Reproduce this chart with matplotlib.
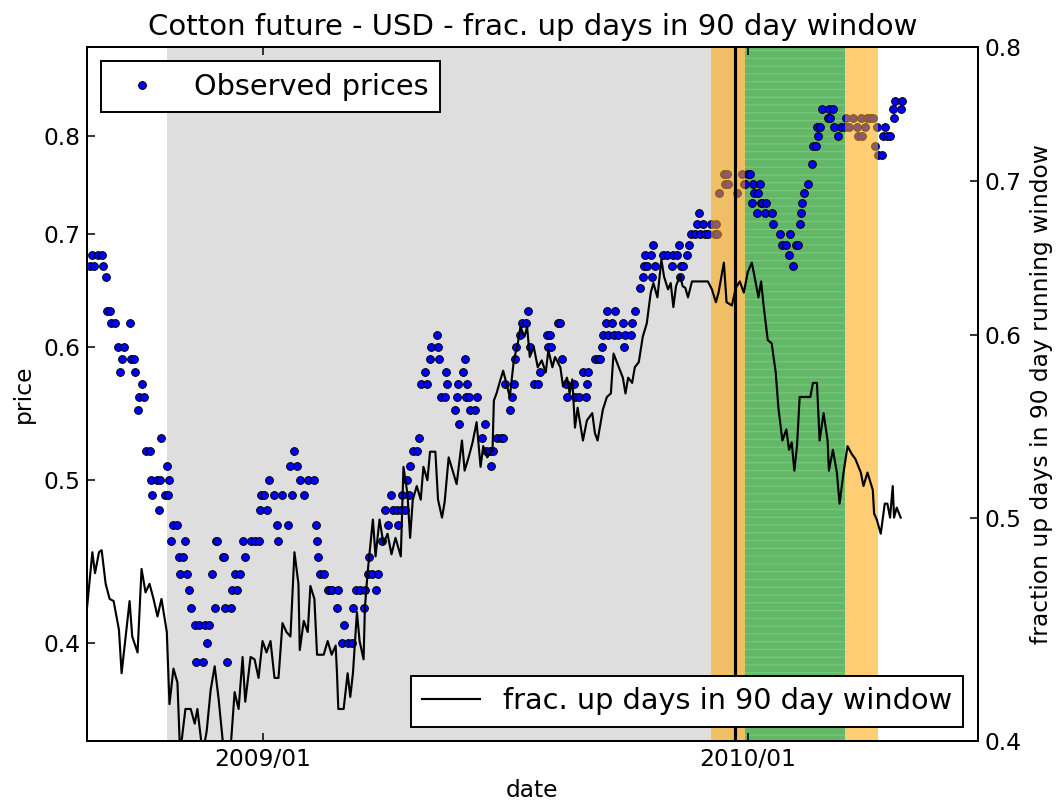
import numpy as np
import matplotlib
matplotlib.use("Agg")
import matplotlib.pyplot as plt
import matplotlib.dates as mdates
from matplotlib.ticker import FixedLocator, FixedFormatter, NullLocator

# ---------------- data ----------------
start_date = np.datetime64("2008-08-22")

price_day = [2, 4, 5, 8, 11, 12, 14, 15, 17, 18, 21, 23, 25, 26, 28, 32, 33, 35, 36, 38, 39, 41, 43, 44, 47, 48,
             49, 53, 54, 55, 56, 59, 60, 61, 62, 63, 65, 68, 69, 70, 72, 74, 75, 77, 78, 81, 82, 84, 87, 89, 90,
             92, 94, 96, 97, 98, 102, 103, 104, 105, 108, 109, 111, 113, 115, 117, 119, 123, 126, 129, 130, 131,
             133, 135, 137, 141, 143, 144, 147, 151, 153, 154, 156, 158, 160, 163, 166, 171, 172, 173, 174, 175,
             178, 181, 183, 184, 188, 189, 192, 193, 196, 199, 200, 202, 205, 208, 209, 211, 212, 214, 217, 219,
             222, 224, 226, 229, 230, 233, 234, 236, 237, 239, 241, 242, 243, 245, 248, 250, 251, 254, 256, 258,
             259, 263, 264, 265, 266, 269, 270, 271, 277, 278, 279, 280, 283, 284, 285, 286, 287, 288, 292, 293,
             297, 299, 300, 303, 304, 305, 308, 311, 313, 314, 318, 320, 321, 322, 323, 326, 327, 330, 332, 333,
             336, 339, 341, 346, 347, 348, 349, 354, 356, 357, 360, 361, 366, 367, 370, 373, 375, 376, 377, 382,
             384, 386, 387, 388, 390, 391, 392, 395, 396, 397, 399, 403, 404, 405, 409, 410, 412, 416, 418, 419,
             420, 421, 424, 425, 426, 427, 433, 436, 440, 441, 444, 445, 446, 447, 448, 451, 453, 454, 457, 459,
             460, 461, 463, 465, 467, 469, 472, 473, 474, 475, 479, 480, 481, 482, 489, 493, 494, 495, 497, 499,
             500, 501, 502, 504, 505, 506, 507, 508, 510, 511, 515, 516, 521, 523, 526, 528, 529, 531, 533, 535,
             536, 537, 538, 539, 542, 545, 546, 548, 549, 550, 551, 553, 557, 558, 559, 561, 562, 565, 567, 570,
             571, 573, 576, 579, 580, 582, 583, 585, 587, 589, 591, 593, 594, 595, 598, 599, 600, 602, 604, 606,
             607, 608, 612, 613]
price_val = [0.67, 0.68, 0.67, 0.68, 0.68, 0.67, 0.66, 0.63, 0.63, 0.62, 0.62, 0.60, 0.58, 0.59, 0.60, 0.62, 0.59,
             0.59, 0.58, 0.55, 0.56, 0.57, 0.56, 0.52, 0.52, 0.50, 0.49, 0.50, 0.48, 0.50, 0.53, 0.49, 0.51, 0.49,
             0.50, 0.46, 0.47, 0.47, 0.45, 0.44, 0.45, 0.46, 0.44, 0.43, 0.42, 0.41, 0.39, 0.41, 0.39, 0.41, 0.40,
             0.41, 0.44, 0.42, 0.46, 0.46, 0.45, 0.45, 0.42, 0.39, 0.42, 0.43, 0.44, 0.43, 0.44, 0.46, 0.45, 0.46,
             0.46, 0.46, 0.48, 0.49, 0.49, 0.48, 0.50, 0.49, 0.47, 0.46, 0.49, 0.47, 0.51, 0.49, 0.52, 0.51, 0.50,
             0.49, 0.50, 0.50, 0.47, 0.46, 0.45, 0.44, 0.44, 0.43, 0.43, 0.43, 0.42, 0.43, 0.40, 0.41, 0.40, 0.40,
             0.42, 0.43, 0.43, 0.42, 0.43, 0.44, 0.45, 0.44, 0.43, 0.44, 0.46, 0.48, 0.47, 0.49, 0.48, 0.48, 0.47,
             0.48, 0.49, 0.48, 0.50, 0.49, 0.51, 0.52, 0.52, 0.53, 0.57, 0.58, 0.57, 0.59, 0.60, 0.61, 0.60, 0.59,
             0.56, 0.56, 0.58, 0.57, 0.55, 0.56, 0.57, 0.54, 0.58, 0.59, 0.56, 0.57, 0.56, 0.55, 0.55, 0.56, 0.53,
             0.54, 0.52, 0.52, 0.51, 0.52, 0.53, 0.53, 0.53, 0.57, 0.55, 0.56, 0.57, 0.59, 0.60, 0.61, 0.62, 0.62,
             0.63, 0.60, 0.57, 0.57, 0.58, 0.61, 0.60, 0.61, 0.60, 0.62, 0.62, 0.59, 0.57, 0.56, 0.57, 0.56, 0.56,
             0.58, 0.56, 0.57, 0.58, 0.59, 0.59, 0.59, 0.60, 0.61, 0.62, 0.63, 0.61, 0.62, 0.61, 0.63, 0.61, 0.62,
             0.60, 0.61, 0.61, 0.62, 0.63, 0.65, 0.66, 0.67, 0.68, 0.67, 0.68, 0.66, 0.69, 0.67, 0.68, 0.68, 0.67,
             0.68, 0.68, 0.69, 0.66, 0.67, 0.67, 0.68, 0.69, 0.70, 0.70, 0.71, 0.72, 0.70, 0.71, 0.70, 0.70, 0.71,
             0.70, 0.71, 0.70, 0.74, 0.76, 0.75, 0.76, 0.75, 0.74, 0.76, 0.75, 0.75, 0.76, 0.76, 0.73, 0.75, 0.74,
             0.72, 0.74, 0.75, 0.73, 0.73, 0.72, 0.73, 0.72, 0.71, 0.70, 0.69, 0.69, 0.68, 0.70, 0.67, 0.69, 0.69,
             0.71, 0.72, 0.73, 0.74, 0.75, 0.77, 0.79, 0.79, 0.81, 0.80, 0.81, 0.83, 0.82, 0.83, 0.82, 0.83, 0.81,
             0.80, 0.81, 0.81, 0.82, 0.81, 0.82, 0.81, 0.80, 0.82, 0.80, 0.81, 0.82, 0.82, 0.82, 0.79, 0.81, 0.78,
             0.78, 0.80, 0.81, 0.80, 0.80, 0.83, 0.82, 0.84, 0.83, 0.84]

frac_day = [0, 4, 6, 9, 11, 14, 17, 20, 24, 26, 32, 34, 38, 41, 44, 47, 50, 53, 56, 60, 62, 65, 68, 70, 74, 78, 81,
            83, 87, 90, 93, 96, 99, 103, 107, 111, 114, 117, 119, 123, 126, 129, 132, 135, 138, 141, 144, 147, 150,
            153, 156, 159, 160, 163, 166, 168, 171, 173, 178, 181, 184, 187, 188, 189, 193, 196, 198, 200, 203, 205,
            208, 209, 211, 215, 217, 220, 223, 226, 229, 232, 236, 238, 241, 243, 245, 248, 251, 253, 256, 258, 262,
            264, 267, 269, 272, 275, 278, 282, 284, 287, 290, 293, 296, 298, 301, 305, 306, 308, 311, 313, 316, 318,
            321, 324, 326, 329, 331, 333, 336, 339, 342, 345, 347, 350, 352, 356, 358, 361, 363, 365, 367, 369, 373,
            376, 380, 382, 384, 388, 391, 394, 396, 400, 403, 405, 407, 410, 412, 415, 418, 421, 424, 426, 429, 432,
            434, 437, 439, 441, 443, 446, 448, 450, 452, 455, 467, 470, 473, 475, 479, 481, 485, 488, 491, 494, 497,
            500, 503, 505, 507, 509, 512, 515, 516, 518, 520, 523, 526, 528, 530, 532, 534, 536, 539, 544, 546, 549,
            551, 554, 557, 558, 561, 564, 566, 569, 572, 575, 578, 582, 584, 587, 591, 592, 594, 597, 600, 602, 604,
            606, 607, 609, 612]
frac_val = [0.457, 0.483, 0.473, 0.483, 0.484, 0.468, 0.461, 0.460, 0.447, 0.428, 0.460, 0.444, 0.437, 0.475, 0.464,
            0.468, 0.461, 0.453, 0.461, 0.446, 0.415, 0.430, 0.424, 0.395, 0.413, 0.413, 0.407, 0.413, 0.395, 0.404,
            0.421, 0.431, 0.417, 0.395, 0.390, 0.420, 0.413, 0.435, 0.416, 0.435, 0.434, 0.426, 0.442, 0.437, 0.442,
            0.426, 0.426, 0.450, 0.446, 0.444, 0.483, 0.468, 0.438, 0.451, 0.446, 0.467, 0.461, 0.436, 0.436, 0.442,
            0.436, 0.440, 0.428, 0.413, 0.413, 0.428, 0.418, 0.428, 0.455, 0.442, 0.434, 0.457, 0.473, 0.499, 0.481,
            0.499, 0.487, 0.492, 0.482, 0.490, 0.481, 0.526, 0.512, 0.490, 0.509, 0.516, 0.509, 0.526, 0.519, 0.534,
            0.534, 0.509, 0.500, 0.508, 0.531, 0.524, 0.517, 0.540, 0.524, 0.531, 0.539, 0.550, 0.526, 0.537, 0.531,
            0.535, 0.562, 0.566, 0.574, 0.579, 0.570, 0.564, 0.585, 0.595, 0.605, 0.599, 0.605, 0.587, 0.593, 0.581,
            0.585, 0.578, 0.591, 0.581, 0.587, 0.581, 0.570, 0.575, 0.566, 0.574, 0.547, 0.558, 0.540, 0.551, 0.555,
            0.544, 0.540, 0.557, 0.564, 0.566, 0.589, 0.581, 0.575, 0.566, 0.575, 0.572, 0.581, 0.584, 0.599, 0.607,
            0.626, 0.632, 0.623, 0.647, 0.636, 0.628, 0.632, 0.617, 0.630, 0.637, 0.630, 0.629, 0.623, 0.633, 0.633,
            0.628, 0.620, 0.626, 0.645, 0.620, 0.618, 0.629, 0.633, 0.626, 0.639, 0.645, 0.632, 0.623, 0.633, 0.617,
            0.597, 0.595, 0.589, 0.578, 0.558, 0.540, 0.546, 0.535, 0.539, 0.524, 0.537, 0.564, 0.564, 0.564, 0.572,
            0.572, 0.540, 0.555, 0.540, 0.524, 0.535, 0.523, 0.507, 0.523, 0.537, 0.533, 0.530, 0.523, 0.516, 0.523,
            0.514, 0.502, 0.499, 0.492, 0.507, 0.507, 0.500, 0.516, 0.500, 0.505, 0.500]

# regimes (day offsets from start_date)
grey_span = (60, 495)
orange_spans = [(469, 495), (570, 595)]
green_span = (495, 570)
event_day = 487
x_range = (0, 670)

price_ticks = [0.4, 0.5, 0.6, 0.7, 0.8]
frac_ticks = [0.4, 0.5, 0.6, 0.7, 0.8]
date_ticks = ["2009-01-01", "2010-01-01"]


def to_date(days):
    return start_date + np.array(days, dtype="timedelta64[D]")


# ---------------- style ----------------
plt.rcParams.update({
    "font.family": ["DejaVu Sans"],
    "font.size": 12,
    "xtick.direction": "in",
    "ytick.direction": "in",
    "xtick.major.size": 4,
    "ytick.major.size": 4,
    "axes.linewidth": 1.0,
    "hatch.linewidth": 0.6,
})

fig = plt.figure(figsize=(7.6, 5.75), dpi=140, facecolor="white")
ax = fig.add_axes([0.0818, 0.0795, 0.919 - 0.0818, 0.9416 - 0.0795])

ax.axvspan(to_date(grey_span[0]), to_date(grey_span[1]), color="#dedede", lw=0, zorder=0)
ax.axvspan(to_date(green_span[0]), to_date(green_span[1]), facecolor="#62b866", edgecolor="#7cc680",
           hatch="---", lw=0, zorder=0.5)

ax.plot(to_date(price_day), price_val, "o", color="#0000ff", markersize=4.0,
        markeredgecolor="black", markeredgewidth=0.5, label="Observed prices", zorder=2)

for s, e in orange_spans:
    ax.axvspan(to_date(s), to_date(e), color="#ffa500", alpha=0.55, lw=0, zorder=3)
ax.axvline(to_date(event_day), color="black", lw=1.6, zorder=4)

ax.set_yscale("log")
ax.set_ylim(0.35, 0.904)
ax.yaxis.set_major_locator(FixedLocator(price_ticks))
ax.yaxis.set_major_formatter(FixedFormatter([f"{t:.1f}" for t in price_ticks]))
ax.yaxis.set_minor_locator(NullLocator())
ax.set_xlim(to_date(x_range[0]), to_date(x_range[1]))
ax.xaxis.set_major_locator(FixedLocator(mdates.date2num(np.array(date_ticks, dtype="datetime64[D]"))))
ax.xaxis.set_major_formatter(mdates.DateFormatter("%Y/%m"))
ax.tick_params(axis="x", top=True, bottom=True)
ax.tick_params(axis="y", left=True, right=False)
ax.set_xlabel("date")
ax.set_ylabel("price")
ax.set_title("Cotton future - USD - frac. up days in 90 day window", fontsize=15)

leg1 = ax.legend(loc="upper left", numpoints=1, fontsize=14.8, fancybox=False, framealpha=1,
                 edgecolor="black", handlelength=2.0)
leg1.get_frame().set_linewidth(1.0)
leg1.set_zorder(10)

ax2 = ax.twinx()
ax2.plot(to_date(frac_day), frac_val, "-", color="black", lw=1.1, label="frac. up days in 90 day window")
ax2.set_yscale("log")
ax2.set_ylim(0.4, 0.8)
ax2.yaxis.set_major_locator(FixedLocator(frac_ticks))
ax2.yaxis.set_major_formatter(FixedFormatter([f"{t:.1f}" for t in frac_ticks]))
ax2.yaxis.set_minor_locator(NullLocator())
ax2.set_ylabel("fraction up days in 90 day running window")
ax2.set_xlim(to_date(x_range[0]), to_date(x_range[1]))
leg2 = ax2.legend(loc="lower right", fontsize=14.8, fancybox=False, framealpha=1,
                  edgecolor="black", handlelength=2.0)
leg2.get_frame().set_linewidth(1.0)

fig.savefig("out.png", dpi=140, facecolor="white")
